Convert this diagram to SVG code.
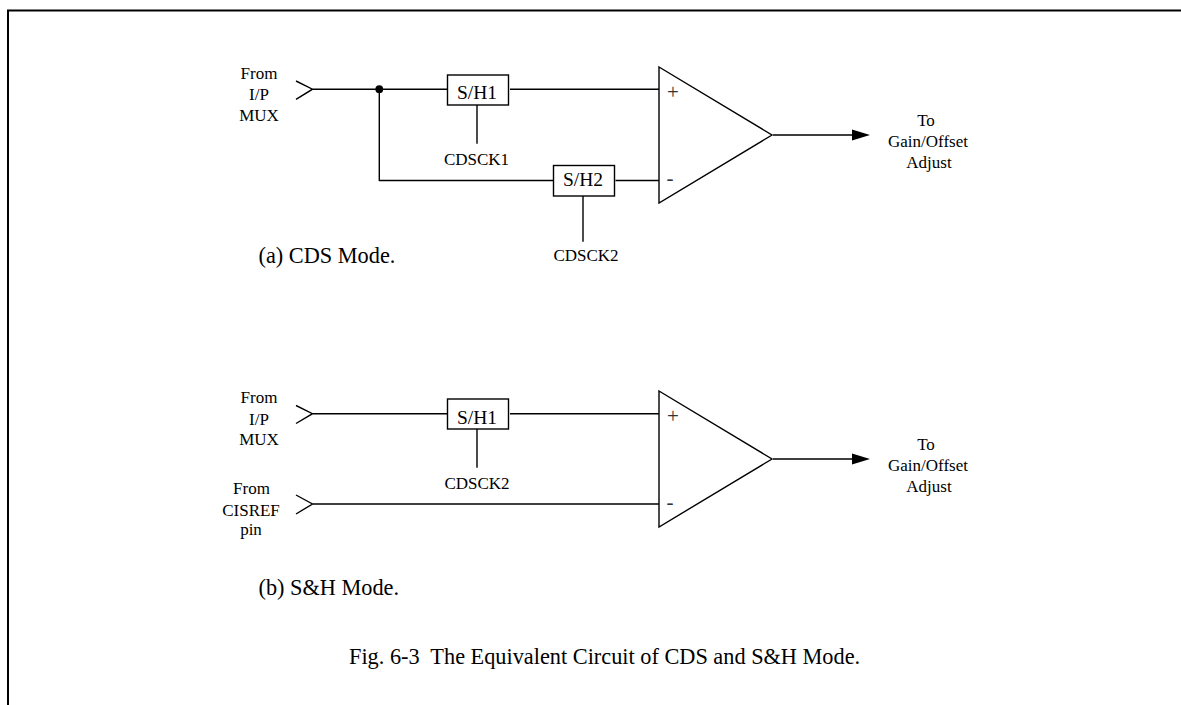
<svg xmlns="http://www.w3.org/2000/svg" width="1181" height="705" viewBox="0 0 1181 705">
<style>
text{font-family:"Liberation Serif","Times New Roman",serif;fill:#000;text-anchor:middle}
.s{font-size:17px}
.l{font-size:19.500px}
.p{font-size:21px;fill:#333}
.b{font-size:22.300px;text-anchor:start}
.w{fill:none;stroke:#000;stroke-width:1.4}
.box{fill:#fff;stroke:#000;stroke-width:1.4}
</style>
<rect width="1181" height="705" fill="#fff"/>
<path d="M8 705V10.500H1181" fill="none" stroke="#000" stroke-width="2"/>
<g id="connectors">
<path class="w" d="M296 81L312.500 89.200L296 99.300M312.500 89.200H447M379.300 89V181M379 180.500H553M477 105V143.700M510 89.200H661M615.500 180.500H661M583 196V241.700M773 135H855"/>
<circle cx="379.300" cy="89.200" r="3.900" fill="#000"/>
<path d="M870 135L852 129.500V140.500Z" fill="#000"/>
<path class="w" d="M296 405.500L312.500 413.700L296 423.500M312.500 413.700H447M296 495L312.500 504L296 514M312.500 504H661M477 429V467.700M510 413.700H661M773 459H855"/>
<path d="M870 459L852 453.500V464.500Z" fill="#000"/>
</g>
<g id="sh1a"><rect class="box" x="447.500" y="75" width="61" height="30"/><text class="l" x="477" y="99">S/H1</text></g>
<g id="sh2a"><rect class="box" x="553.500" y="165.500" width="61" height="30.500"/><text class="l" x="583" y="186">S/H2</text></g>
<g id="amp-a"><path class="box" d="M659 67L772 135L659 203Z"/><text class="p" x="673" y="99">+</text><text class="p" x="670" y="185">-</text></g>
<g id="sh1b"><rect class="box" x="447.500" y="399" width="61" height="30"/><text class="l" x="477" y="423.500">S/H1</text></g>
<g id="amp-b"><path class="box" d="M659 391L772 459L659 527Z"/><text class="p" x="673" y="423">+</text><text class="p" x="670" y="509">-</text></g>
<g id="labels">
<text class="s" x="259" y="79">From</text><text class="s" x="259" y="100">I/P</text><text class="s" x="259" y="121">MUX</text>
<text class="s" x="476.500" y="165">CDSCK1</text><text class="s" x="586" y="261">CDSCK2</text>
<text class="s" x="926" y="126">To</text><text class="s" x="928" y="147">Gain/Offset</text><text class="s" x="929" y="168">Adjust</text>
<text class="b" x="258.500" y="263">(a) CDS Mode.</text>
<text class="s" x="259" y="403">From</text><text class="s" x="259" y="425">I/P</text><text class="s" x="259" y="445">MUX</text>
<text class="s" x="477" y="489">CDSCK2</text>
<text class="s" x="251.500" y="494">From</text><text class="s" x="251" y="516">CISREF</text><text class="s" x="251" y="535">pin</text>
<text class="s" x="926" y="450">To</text><text class="s" x="928" y="471">Gain/Offset</text><text class="s" x="929" y="492">Adjust</text>
<text class="b" x="258.500" y="595">(b) S&amp;H Mode.</text>
<text class="b" x="349" y="664" xml:space="preserve">Fig. 6-3  The Equivalent Circuit of CDS and S&amp;H Mode.</text>
</g>
</svg>
